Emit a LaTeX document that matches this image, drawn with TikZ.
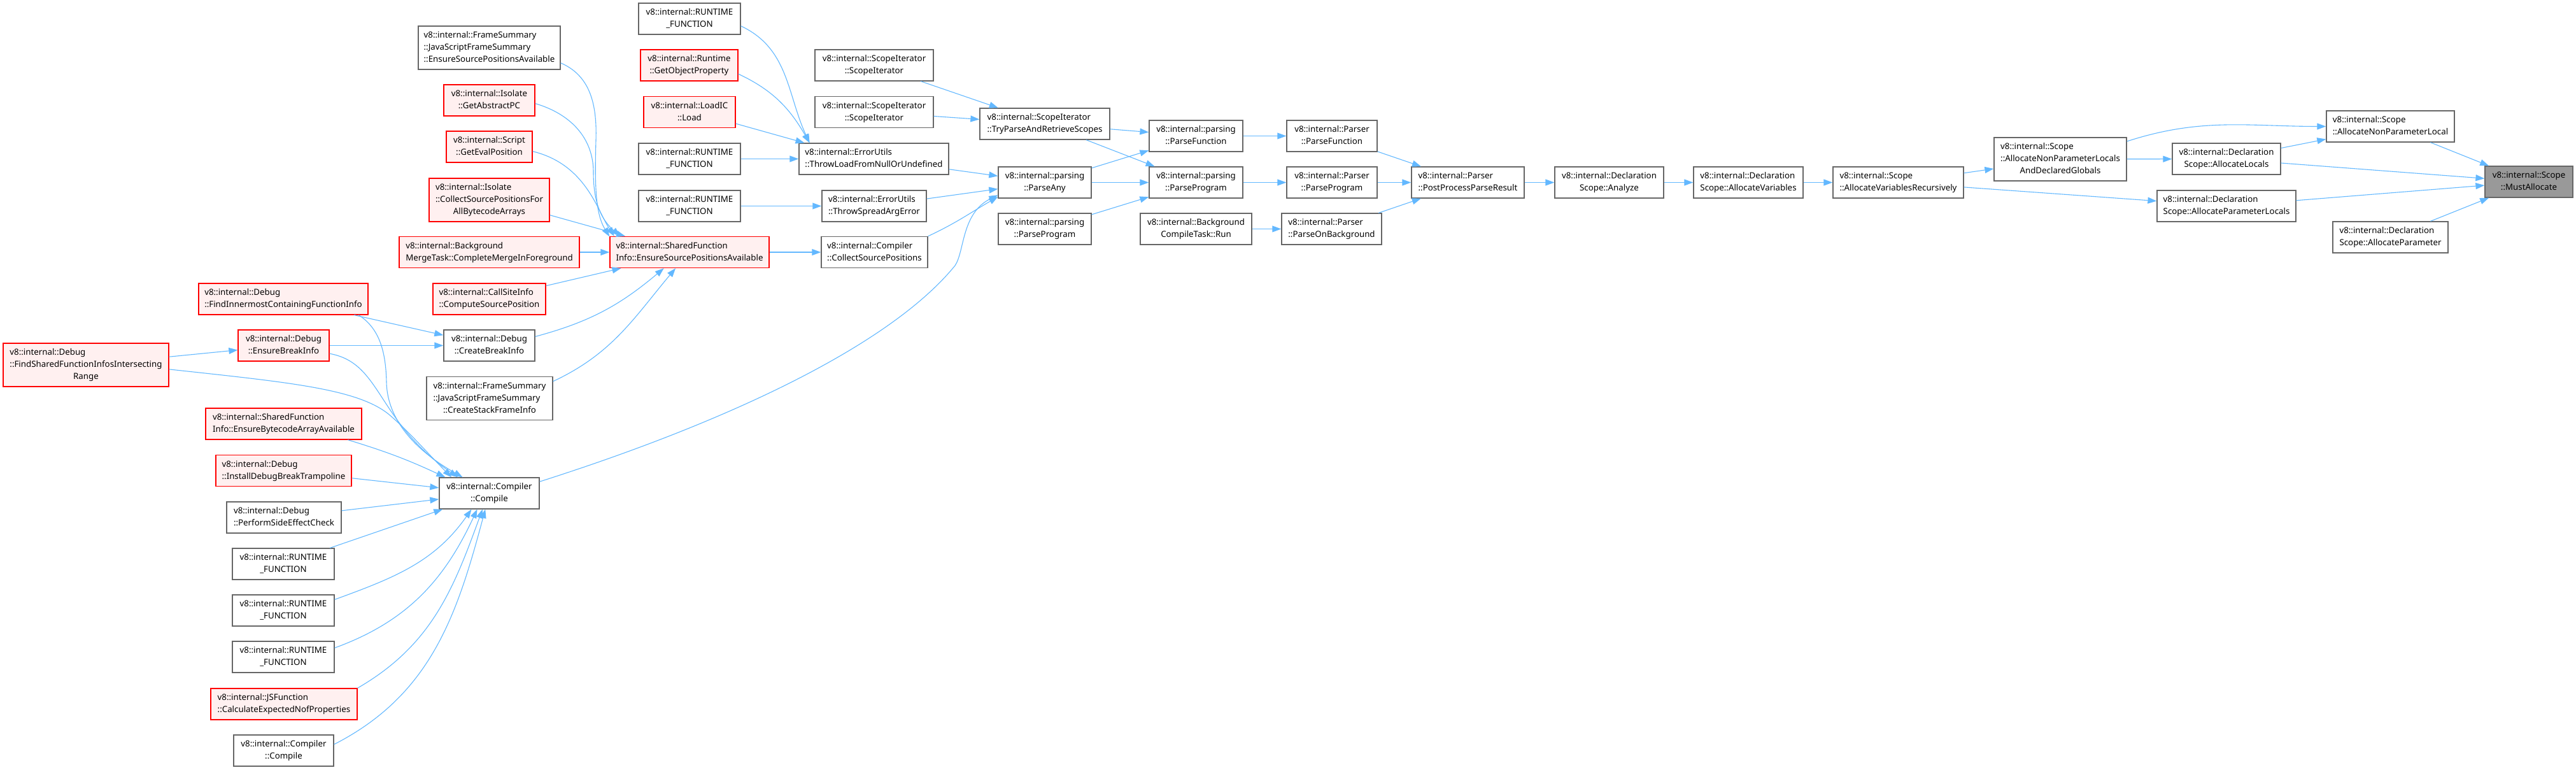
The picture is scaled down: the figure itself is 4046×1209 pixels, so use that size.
\documentclass[tikz,border=0pt]{standalone}
\usepackage{fontspec}
\setmainfont{Noto Sans}
\usetikzlibrary{arrows.meta}
\definecolor{colEdge}{HTML}{63B8FF}
\definecolor{colBorder}{HTML}{666666}
\definecolor{colRedFill}{HTML}{FFF0F0}
\definecolor{colMain}{HTML}{999999}
% all lines left aligned, the last one centred
\newcommand{\fnLabel}[2]{\begin{tabular}{@{}l@{}}#1\\\multicolumn{1}{@{}c@{}}{#2}\end{tabular}}

\begin{document}
\begin{tikzpicture}[x=1pt, y=1pt, >={Triangle[length=14pt,width=10pt]},
    fnBox/.style={draw=colBorder, fill=white, line width=1.3pt, minimum height=49pt,
      inner sep=0pt, font=\fontsize{13.3}{19}\selectfont},
    fnRed/.style={fnBox, draw=red, fill=colRedFill},
    fnMain/.style={fnBox, fill=colMain},
    fnTall/.style={minimum height=68pt},
    callEdge/.style={->, colEdge, line width=1.1pt}]
    \useasboundingbox (0,0) rectangle (4046,-1209);

    % Target
    \node[fnMain, minimum width=138pt] (must) at (3972,-285.5) {\fnLabel{v8::internal::Scope}{::MustAllocate}};

    % Scope allocation
    \node[fnBox, minimum width=201pt] (anpl) at (3754.5,-198.5) {\fnLabel{v8::internal::Scope}{::AllocateNonParameterLocal}};
    \node[fnBox, minimum width=170pt] (al) at (3497,-249.5) {\fnLabel{v8::internal::Declaration}{Scope::AllocateLocals}};
    \node[fnBox, minimum width=218pt] (apl) at (3497,-323.5) {\fnLabel{v8::internal::Declaration}{Scope::AllocateParameterLocals}};
    \node[fnBox, minimum width=181pt] (ap) at (3754.5,-372.5) {\fnLabel{v8::internal::Declaration}{Scope::AllocateParameter}};
    \node[fnBox, fnTall, minimum width=208pt] (anpladg) at (3236,-250) {\fnLabel{v8::internal::Scope\\::AllocateNonParameterLocals}{AndDeclaredGlobals}};
    \node[fnBox, minimum width=205pt] (avr) at (2981.5,-286.5) {\fnLabel{v8::internal::Scope}{::AllocateVariablesRecursively}};
    \node[fnBox, minimum width=172pt] (av) at (2746,-286.5) {\fnLabel{v8::internal::Declaration}{Scope::AllocateVariables}};
    \node[fnBox, minimum width=171pt] (analyze) at (2527.5,-286.5) {\fnLabel{v8::internal::Declaration}{Scope::Analyze}};

    % Parser
    \node[fnBox, minimum width=177pt] (pppr) at (2305.5,-286.5) {\fnLabel{v8::internal::Parser}{::PostProcessParseResult}};
    \node[fnBox, minimum width=142pt] (pfun) at (2092,-213.5) {\fnLabel{v8::internal::Parser}{::ParseFunction}};
    \node[fnBox, minimum width=142pt] (pprog) at (2092,-286.5) {\fnLabel{v8::internal::Parser}{::ParseProgram}};
    \node[fnBox, minimum width=157pt] (pbg) at (2091.5,-359.5) {\fnLabel{v8::internal::Parser}{::ParseOnBackground}};
    \node[fnBox, minimum width=147pt] (ppfun) at (1878.5,-213.5) {\fnLabel{v8::internal::parsing}{::ParseFunction}};
    \node[fnBox, minimum width=147pt] (ppprog) at (1878.5,-286.5) {\fnLabel{v8::internal::parsing}{::ParseProgram}};
    \node[fnBox, minimum width=175pt] (bctrun) at (1878.5,-359.5) {\fnLabel{v8::internal::Background}{CompileTask::Run}};
    \node[fnBox, minimum width=204pt] (tryparse) at (1641,-194.5) {\fnLabel{v8::internal::ScopeIterator}{::TryParseAndRetrieveScopes}};
    \node[fnBox, minimum width=146pt] (parseany) at (1641,-286.5) {\fnLabel{v8::internal::parsing}{::ParseAny}};
    \node[fnBox, minimum width=146pt] (ppprogb) at (1641,-359.5) {\fnLabel{v8::internal::parsing}{::ParseProgram}};

    % Callers of ParseAny
    \node[fnBox, minimum width=186pt] (sia) at (1373,-102.5) {\fnLabel{v8::internal::ScopeIterator}{::ScopeIterator}};
    \node[fnBox, minimum width=186pt] (sib) at (1373,-176) {\fnLabel{v8::internal::ScopeIterator}{::ScopeIterator}};
    \node[fnBox, minimum width=235pt] (throwload) at (1372.5,-249.5) {\fnLabel{v8::internal::ErrorUtils}{::ThrowLoadFromNullOrUndefined}};
    \node[fnBox, minimum width=164pt] (throwspread) at (1373,-323.5) {\fnLabel{v8::internal::ErrorUtils}{::ThrowSpreadArgError}};
    \node[fnBox, minimum width=167pt] (csp) at (1373.5,-396) {\fnLabel{v8::internal::Compiler}{::CollectSourcePositions}};
    \node[fnBox, minimum width=160pt] (rta) at (1083,-29.5) {\fnLabel{v8::internal::RUNTIME}{\_FUNCTION}};
    \node[fnRed, minimum width=153pt] (gop) at (1082.5,-102.5) {\fnLabel{v8::internal::Runtime}{::GetObjectProperty}};
    \node[fnRed, minimum width=144pt] (loadic) at (1083,-176) {\fnLabel{v8::internal::LoadIC}{::Load}};
    \node[fnBox, minimum width=160pt] (rtb) at (1083,-249.5) {\fnLabel{v8::internal::RUNTIME}{\_FUNCTION}};
    \node[fnBox, minimum width=160pt] (rtc) at (1083,-323.5) {\fnLabel{v8::internal::RUNTIME}{\_FUNCTION}};
    \node[fnRed, minimum width=250pt] (sfi) at (1083,-396) {\fnLabel{v8::internal::SharedFunction}{Info::EnsureSourcePositionsAvailable}};

    % Callers of EnsureSourcePositionsAvailable
    \node[fnBox, fnTall, minimum width=223pt] (fsespa) at (768.5,-75) {\fnLabel{v8::internal::FrameSummary\\::JavaScriptFrameSummary}{::EnsureSourcePositionsAvailable}};
    \node[fnRed, minimum width=143pt] (gap) at (768.5,-157.5) {\fnLabel{v8::internal::Isolate}{::GetAbstractPC}};
    \node[fnRed, minimum width=135pt] (gep) at (768.5,-230.5) {\fnLabel{v8::internal::Script}{::GetEvalPosition}};
    \node[fnRed, fnTall, minimum width=189pt] (cspfa) at (768.5,-314) {\fnLabel{v8::internal::Isolate\\::CollectSourcePositionsFor}{AllBytecodeArrays}};
    \node[fnRed, minimum width=283pt] (bgmerge) at (768.5,-396) {\fnLabel{v8::internal::Background}{MergeTask::CompleteMergeInForeground}};
    \node[fnRed, minimum width=177pt] (csi) at (768.5,-469.5) {\fnLabel{v8::internal::CallSiteInfo}{::ComputeSourcePosition}};
    \node[fnBox, minimum width=143pt] (cbi) at (768.5,-542.5) {\fnLabel{v8::internal::Debug}{::CreateBreakInfo}};
    \node[fnBox, fnTall, minimum width=198pt] (csfi) at (769,-625.5) {\fnLabel{v8::internal::FrameSummary\\::JavaScriptFrameSummary}{::CreateStackFrameInfo}};
    \node[fnBox, minimum width=157pt] (compile) at (768.5,-774.5) {\fnLabel{v8::internal::Compiler}{::Compile}};

    % Debug and Compile callers
    \node[fnRed, minimum width=266pt] (fi) at (445,-469.5) {\fnLabel{v8::internal::Debug}{::FindInnermostContainingFunctionInfo}};
    \node[fnRed, minimum width=143pt] (ebi) at (445.5,-542.5) {\fnLabel{v8::internal::Debug}{::EnsureBreakInfo}};
    \node[fnRed, fnTall, minimum width=260pt] (fsfii) at (135,-573) {\fnLabel{v8::internal::Debug\\::FindSharedFunctionInfosIntersecting}{Range}};
    \node[fnRed, minimum width=245pt] (ebaa) at (445.5,-665.5) {\fnLabel{v8::internal::SharedFunction}{Info::EnsureBytecodeArrayAvailable}};
    \node[fnRed, minimum width=213pt] (idbt) at (445.5,-739) {\fnLabel{v8::internal::Debug}{::InstallDebugBreakTrampoline}};
    \node[fnBox, minimum width=180pt] (psec) at (446,-812.5) {\fnLabel{v8::internal::Debug}{::PerformSideEffectCheck}};
    \node[fnBox, minimum width=160pt] (rtd) at (445,-885.5) {\fnLabel{v8::internal::RUNTIME}{\_FUNCTION}};
    \node[fnBox, minimum width=160pt] (rte) at (445,-958.5) {\fnLabel{v8::internal::RUNTIME}{\_FUNCTION}};
    \node[fnBox, minimum width=160pt] (rtf) at (445,-1031.5) {\fnLabel{v8::internal::RUNTIME}{\_FUNCTION}};
    \node[fnRed, minimum width=230pt] (jsf) at (446,-1105.5) {\fnLabel{v8::internal::JSFunction}{::CalculateExpectedNofProperties}};
    \node[fnBox, minimum width=157pt] (compileb) at (445.5,-1178.5) {\fnLabel{v8::internal::Compiler}{::Compile}};

    % Edges into MustAllocate
    \draw[callEdge] (anpl) -- (must);
    \draw[callEdge] (al) -- (must);
    \draw[callEdge] (apl) -- (must);
    \draw[callEdge] (ap) -- (must);
    \draw[callEdge] (anpladg.15) to[out=18, in=180] (anpl.west);
    \draw[callEdge] (al) -- (anpl);
    \draw[callEdge] (anpladg) -- (al);
    \draw[callEdge] (avr) -- (anpladg);
    \draw[callEdge] (avr) -- (apl);
    \draw[callEdge] (av) -- (avr);
    \draw[callEdge] (analyze) -- (av);
    \draw[callEdge] (pppr) -- (analyze);

    % Parser chain
    \draw[callEdge] (pfun) -- (pppr);
    \draw[callEdge] (pprog) -- (pppr);
    \draw[callEdge] (pbg) -- (pppr);
    \draw[callEdge] (ppfun) -- (pfun);
    \draw[callEdge] (ppprog) -- (pprog);
    \draw[callEdge] (bctrun) -- (pbg);
    \draw[callEdge] (tryparse) -- (ppfun);
    \draw[callEdge] (tryparse) -- (ppprog);
    \draw[callEdge] (parseany) -- (ppfun);
    \draw[callEdge] (parseany) -- (ppprog);
    \draw[callEdge] (ppprogb) -- (ppprog);
    \draw[callEdge] (sia) -- (tryparse);
    \draw[callEdge] (sib) -- (tryparse);
    \draw[callEdge] (throwload) -- (parseany);
    \draw[callEdge] (throwspread) -- (parseany);
    \draw[callEdge] (csp.north east) to[out=25, in=210] (parseany.197);
    \draw[callEdge] (compile.13) .. controls (1150,-660) and (1400,-540) .. (1500,-417)
        .. controls (1515,-395) and (1510,-335) .. (parseany.195);

    % ErrorUtils callers
    \draw[callEdge] (rta.-8) to[out=-25, in=115] (throwload.166);
    \draw[callEdge] (gop.-10) to[out=-25, in=120] (throwload.166);
    \draw[callEdge] (loadic.-14) -- (throwload.167);
    \draw[callEdge] (rtb) -- (throwload);
    \draw[callEdge] (rtc) -- (throwspread);
    \draw[callEdge] (sfi) -- (csp);

    % EnsureSourcePositionsAvailable callers
    \draw[callEdge] (fsespa.-12) .. controls (925,-118) and (938,-160) .. (936,-220)
        .. controls (934,-290) and (935,-335) .. (sfi.169);
    \draw[callEdge] (gap.-4) .. controls (900,-180) and (932,-220) .. (932,-270)
        .. controls (932,-320) and (945,-345) .. (sfi.167);
    \draw[callEdge] (gep.-6) .. controls (920,-258) and (938,-330) .. (sfi.168);
    \draw[callEdge] (cspfa.-14) -- (sfi.166);
    \draw[callEdge] (bgmerge) -- (sfi);
    \draw[callEdge] (csi) -- (sfi);
    \draw[callEdge] (cbi.11) to[out=15, in=220] (sfi.212);
    \draw[callEdge] (csfi.15) to[out=25, in=230] (sfi.229);

    % Debug
    \draw[callEdge] (fi) -- (cbi);
    \draw[callEdge] (ebi) -- (cbi);
    \draw[callEdge] (fsfii) -- (ebi);

    % Compile callers
    \draw[callEdge] (fi.-12) .. controls (595,-515) and (606,-550) .. (607,-600)
        .. controls (608,-650) and (640,-700) .. (compile.149);
    \draw[callEdge] (ebi.-10) .. controls (600,-570) and (590,-660) .. (compile.153);
    \draw[callEdge] (fsfii.-3) .. controls (450,-600) and (560,-610) .. (610,-650)
        .. controls (640,-675) and (670,-710) .. (compile.157);
    \draw[callEdge] (ebaa.-14) to[out=-17, in=155] (compile.160);
    \draw[callEdge] (idbt) -- (compile);
    \draw[callEdge] (psec) -- (compile);
    \draw[callEdge] (rtd) -- (compile);
    \draw[callEdge] (rte.12) to[out=20, in=235] (compile.222);
    \draw[callEdge] (rtf.10) to[out=20, in=245] (compile.233);
    \draw[callEdge] (jsf.north east) to[out=30, in=250] (compile.247);
    \draw[callEdge] (compileb.7) to[out=27, in=255] (compile.256);
\end{tikzpicture}
\end{document}
